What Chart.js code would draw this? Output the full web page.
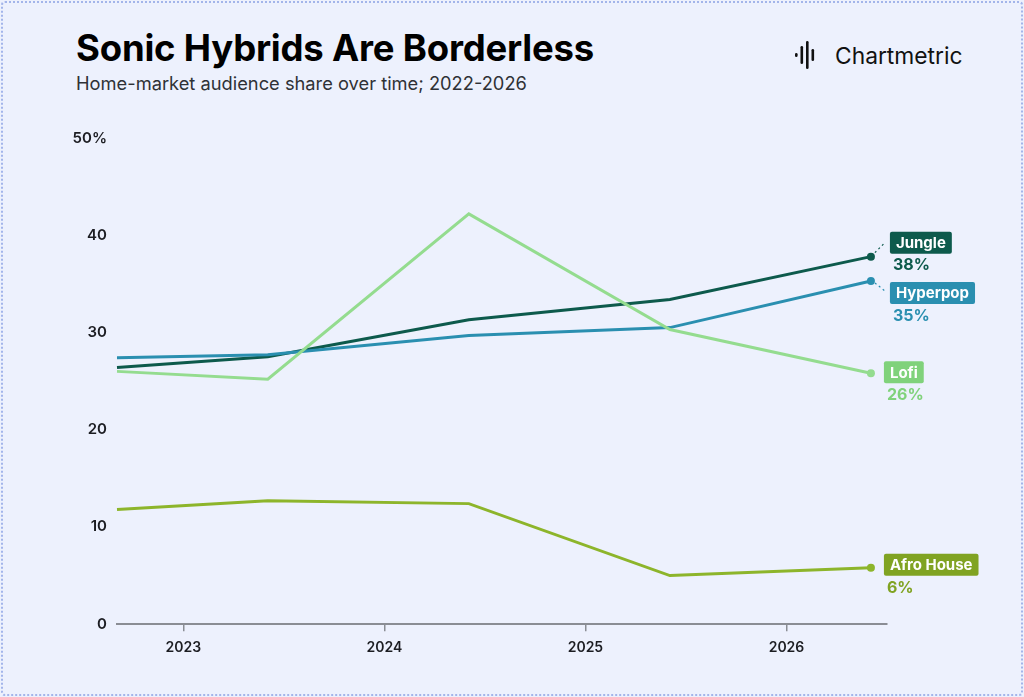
<!DOCTYPE html>
<html>
<head>
<meta charset="utf-8">
<script src="https://cdn.jsdelivr.net/npm/chart.js@4.4.1/dist/chart.umd.min.js"></script>
<style>
  html, body { margin: 0; padding: 0; }
  body {
    width: 1024px; height: 697px; overflow: hidden;
    background: #edf1fd;
    font-family: Inter, "Noto Sans", sans-serif;
    position: relative;
  }
  .frame {
    position: absolute; left: 1px; top: 1px; right: 1px; bottom: 1px;
    border: 2px dotted #a3b5ea; border-radius: 4px;
  }
  h1 {
    position: absolute; left: 76px; top: 26px; margin: 0;
    font-size: 36.5px; font-weight: 700; color: #000; letter-spacing: -0.2px;
  }
  .sub {
    position: absolute; left: 76px; top: 72px;
    font-size: 18.3px; color: #2f3136;
  }
  .logo {
    position: absolute; left: 795px; top: 41px;
    font-size: 22.8px; color: #111; display: flex; align-items: center;
  }
  .logo svg { margin-right: 16px; }
  canvas { position: absolute; left: 0; top: 0; }
</style>
</head>
<body>
<div class="frame"></div>
<h1>Sonic Hybrids Are Borderless</h1>
<div class="sub">Home-market audience share over time; 2022-2026</div>
<div class="logo">
  <svg width="24" height="28" viewBox="0 0 24 28">
    <rect x="0" y="12" width="2.6" height="4" rx="1.3" fill="#111"/>
    <rect x="5.5" y="5" width="2.6" height="18" rx="1.3" fill="#111"/>
    <rect x="11" y="0" width="2.6" height="28" rx="1.3" fill="#111"/>
    <rect x="16.5" y="8" width="2.6" height="12" rx="1.3" fill="#111"/>
  </svg>
  <span>Chartmetric</span>
</div>
<canvas id="c" width="1024" height="697"></canvas>
<script>
// x positions in decimal years
const dates = [2022.67, 2023.42, 2024.42, 2025.42, 2026.42];
const yearTicks = [2023, 2024, 2025, 2026];

const seriesNames = ['Afro House', 'Lofi', 'Hyperpop', 'Jungle'];
const afroHouse = [11.8, 12.7, 12.4, 5.0, 5.8];
const lofi = [26.0, 25.2, 42.2, 30.3, 25.8];
const hyperpop = [27.4, 27.7, 29.7, 30.5, 35.3];
const jungle = [26.4, 27.5, 31.3, 33.4, 37.8];
const endLabels = ['6%', '26%', '35%', '38%'];

const lineColors = ['#8db52b', '#94dc8f', '#2a8fb0', '#0d5a4c'];
const boxColors = ['#80a322', '#80d27b', '#2a8fb0', '#0d5a4c'];
// label box offsets relative to last point: [dx, dy of box centre, leader?]
const labelNudge = [[13, -3, false], [13, -1, false], [19, 12, true], [19, -14, true]];

const allSeries = [afroHouse, lofi, hyperpop, jungle];

const endLabelPlugin = {
  id: 'endLabels',
  afterDatasetsDraw(chart) {
    const ctx = chart.ctx;
    chart.data.datasets.forEach((ds, i) => {
      const meta = chart.getDatasetMeta(i);
      const pt = meta.data[meta.data.length - 1];
      const [dx, dy, leader] = labelNudge[i];
      const bx = pt.x + dx;
      const cy = pt.y + dy;
      ctx.save();
      if (leader) {
        ctx.strokeStyle = boxColors[i];
        ctx.lineWidth = 1.2;
        ctx.setLineDash([2, 3]);
        ctx.beginPath();
        ctx.moveTo(pt.x + 4, pt.y + (dy < 0 ? -4 : 2));
        ctx.lineTo(bx - 5, cy + (dy < 0 ? 0 : -2));
        ctx.stroke();
        ctx.setLineDash([]);
      }
      ctx.font = '700 15px Inter, "Noto Sans", sans-serif';
      const w = ctx.measureText(ds.label).width + 12;
      const h = 22;
      ctx.fillStyle = boxColors[i];
      ctx.beginPath();
      ctx.roundRect(bx, cy - h / 2, w, h, 2);
      ctx.fill();
      ctx.fillStyle = '#fff';
      ctx.textBaseline = 'middle';
      ctx.fillText(ds.label, bx + 6, cy + 1);
      ctx.fillStyle = boxColors[i];
      ctx.font = '700 16px Inter, "Noto Sans", sans-serif';
      ctx.textBaseline = 'top';
      ctx.fillText(endLabels[i], bx + 3, cy + h / 2 + 4);
      ctx.restore();
    });
  }
};

new Chart(document.getElementById('c'), {
  type: 'line',
  data: {
    datasets: allSeries.map((vals, i) => ({
      label: seriesNames[i],
      data: vals.map((v, j) => ({ x: dates[j], y: v })),
      borderColor: lineColors[i],
      backgroundColor: boxColors[i],
      borderWidth: 3,
      tension: 0,
      pointRadius: vals.map((v, j) => j === vals.length - 1 ? 4 : 0),
      pointBorderWidth: 0,
      pointBackgroundColor: lineColors[i],
      clip: false
    }))
  },
  options: {
    responsive: false,
    animation: false,
    layout: { padding: { top: 138, right: 137, bottom: 33, left: 0 } },
    plugins: { legend: { display: false }, tooltip: { enabled: false } },
    scales: {
      x: {
        type: 'linear',
        min: 2022.67,
        max: 2026.5,
        afterBuildTicks(axis) { axis.ticks = yearTicks.map(v => ({ value: v })); },
        ticks: {
          callback: v => String(v),
          color: '#1c1d22',
          font: { family: 'Inter', size: 14, weight: '600' },
          padding: 8,
          maxRotation: 0
        },
        grid: { drawOnChartArea: false, drawTicks: true, tickLength: 7, color: '#8a8d94', lineWidth: 1.5 },
        border: { display: true, color: '#8a8d94', width: 2 }
      },
      y: {
        min: 0,
        max: 50,
        afterFit(axis) { axis.width = 117; },
        ticks: {
          stepSize: 10,
          callback: v => v === 50 ? '50%' : String(v),
          color: '#1c1d22',
          font: { family: 'Inter', size: 15, weight: '600' },
          padding: 10
        },
        grid: { display: false, drawTicks: false },
        border: { display: false }
      }
    }
  },
  plugins: [endLabelPlugin]
});
</script>
</body>
</html>
